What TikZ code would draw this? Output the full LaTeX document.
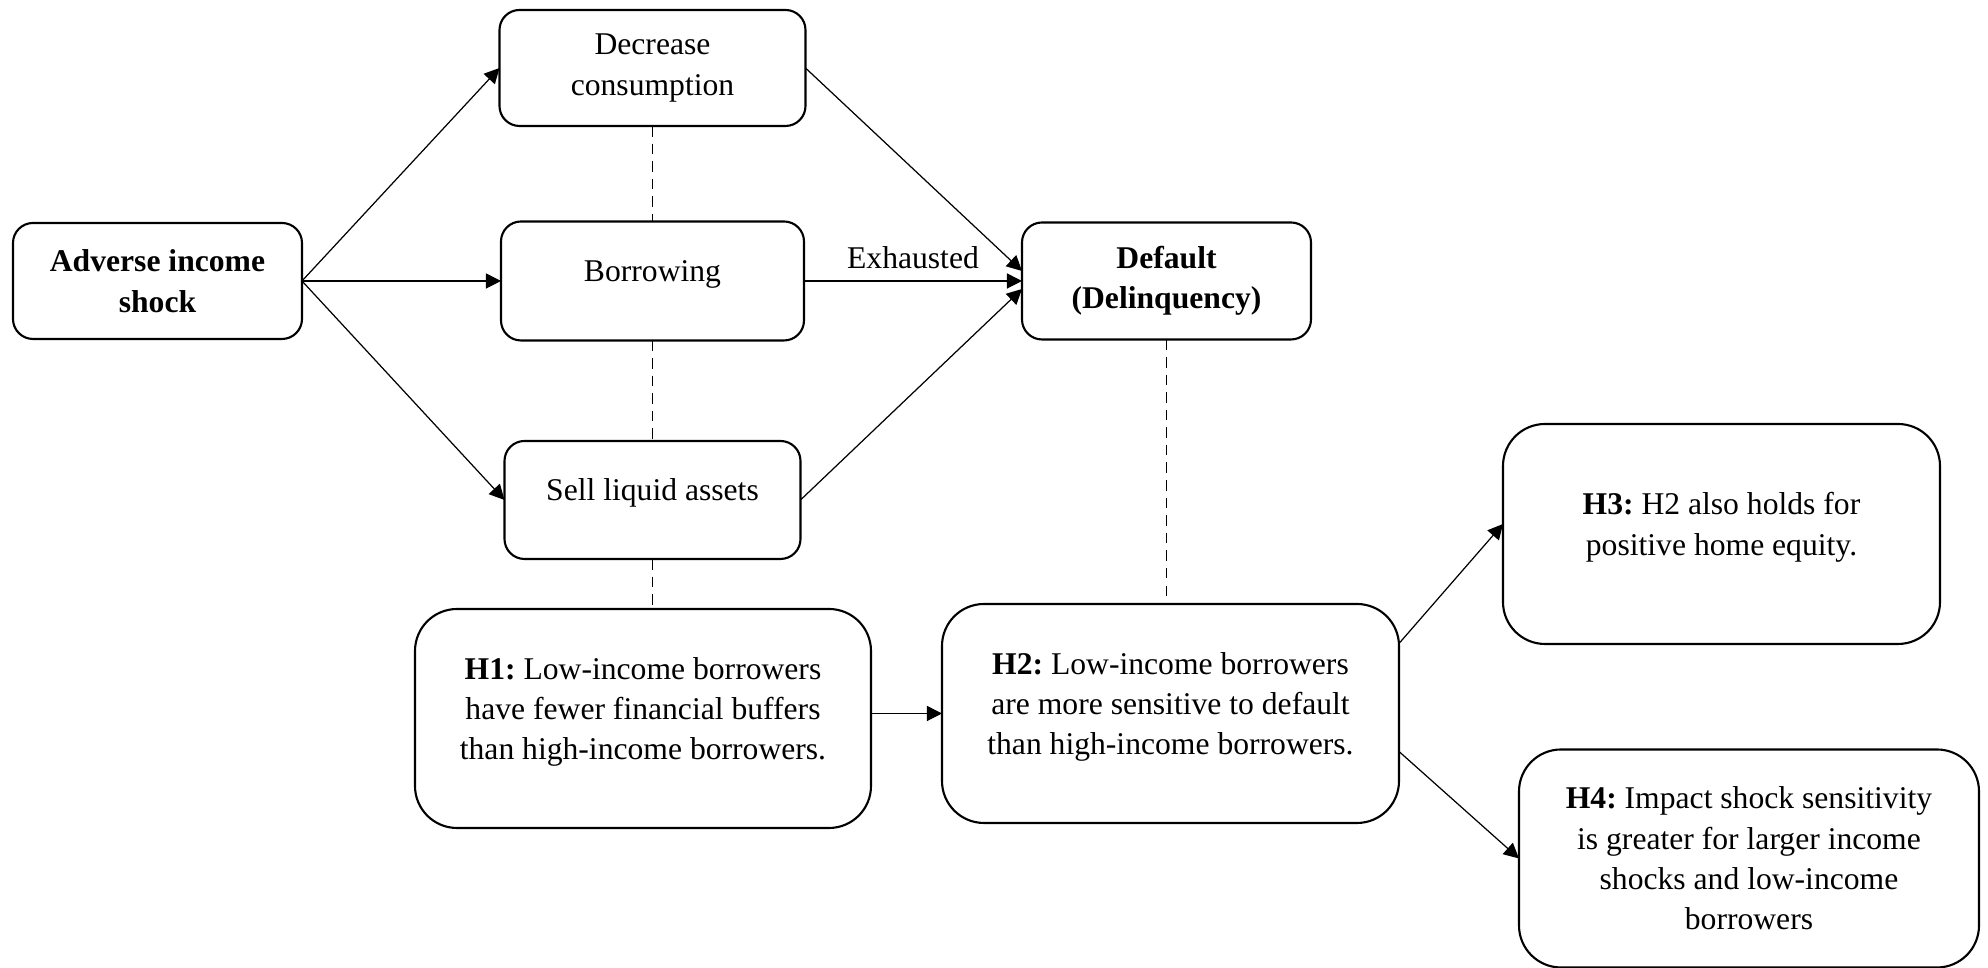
\documentclass[tikz,border=0pt]{standalone}
\usepackage{fontspec}
\setmainfont{Liberation Serif}
\frenchspacing
\usetikzlibrary{arrows.meta,positioning}

\begin{document}
\begin{tikzpicture}[
    path box/.style={draw, line width=0.6pt, rounded corners=0.2cm, align=center, font=\fontsize{9}{11.5}\selectfont, minimum width=2.95cm, minimum height=1.17cm, outer sep=0pt},
    hyp box/.style={path box, rounded corners=0.42cm, minimum width=4.57cm, minimum height=2.19cm},
    lift/.style={execute at end node={\rule[-2mm]{0pt}{0pt}}},
    link/.style={-{Triangle[length=4.3pt,width=4.3pt]}, line width=0.35pt},
    tie/.style={line width=0.4pt, dash pattern=on 3pt off 2pt}
  ]
  \useasboundingbox (0,0) rectangle (19.88,9.68);
  \node [path box, minimum width=2.89cm, minimum height=1.16cm] (shock) at (1.575,6.87) {\textbf{Adverse income}\\\textbf{shock}};
  \begin{scope}[node distance=4.95cm]
  \node [path box, lift, right of=shock, minimum width=3.03cm, minimum height=1.19cm] (borrow) {Borrowing};
  \node [path box, above of=borrow, node distance=2.13cm, minimum width=3.06cm, minimum height=1.16cm] (dec) {Decrease\\consumption};
  \node [path box, lift, below of=borrow, node distance=2.19cm, minimum width=2.96cm, minimum height=1.18cm] (sell) {Sell liquid assets};
  \node [path box, right of=borrow, node distance=5.14cm, minimum width=2.89cm] (def) {\textbf{Default}\\\textbf{(Delinquency)}};
  \end{scope}
  \node [hyp box, lift, minimum width=4.56cm] (h1) at (6.43,2.495) {\textbf{H1:} Low-income borrowers\\have fewer financial buffers\\than high-income borrowers.};
  \node [hyp box, lift] (h2) at (11.705,2.545) {\textbf{H2:} Low-income borrowers\\are more sensitive to default\\than high-income borrowers.};
  \node [hyp box, lift, minimum width=4.37cm, minimum height=2.2cm] (h3) at (17.215,4.34) {\textbf{H3:} H2 also holds for\\positive home equity.};
  \node [hyp box, minimum width=4.6cm, minimum height=2.18cm] (h4) at (17.49,1.095) {\textbf{H4:} Impact shock sensitivity\\is greater for larger income\\shocks and low-income\\borrowers};

  % coping channels
  \draw [link] (shock.east) -- (dec.west);
  \draw [link] (shock.east) -- (borrow.west);
  \draw [link] (shock.east) -- (sell.west);
  \draw [link] (dec.east) -- ([yshift=1mm]def.west);
  \draw [link] (borrow.east) -- node [above, font=\fontsize{9}{11.5}\selectfont] (exh) {Exhausted} (def.west);
  \draw [link] (sell.east) -- ([yshift=-0.8mm]def.west);

  \draw [tie] (dec.south) -- (borrow.north);
  \draw [tie] (borrow.south) -- (sell.north);
  \draw [tie] (sell.south) -- (sell.south |- h1.north);
  \draw [tie] (def.south) -- ([yshift=0.6mm]def.south |- h2.north);

  % hypotheses
  \draw [link] (h1.east |- h2.west) -- (h2.west);
  \draw [link] ([yshift=7mm]h2.east) -- ([yshift=1mm]h3.west);
  \draw [link] ([yshift=-3.8mm]h2.east) -- (h4.west);
\end{tikzpicture}
\end{document}
